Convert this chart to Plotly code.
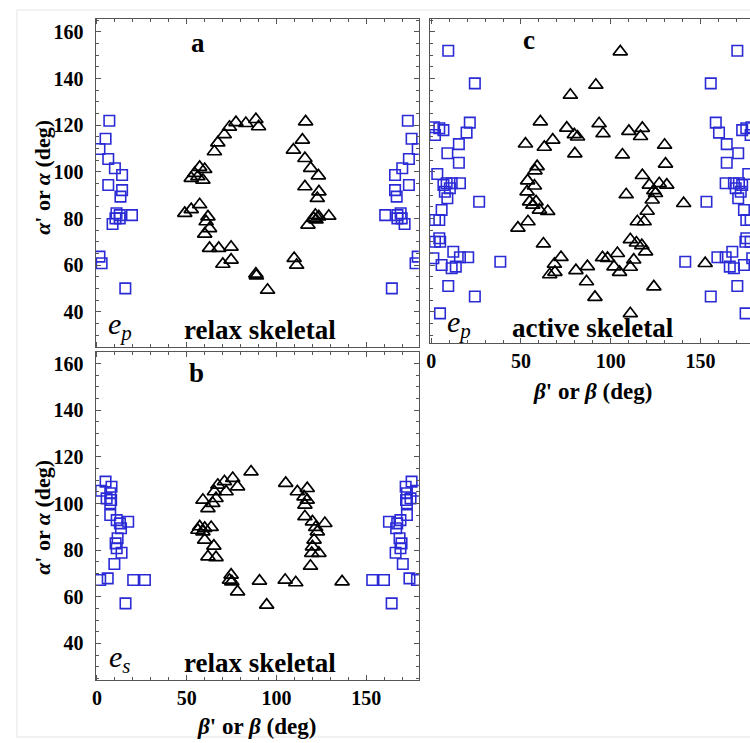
import plotly.graph_objects as go

# ---------------- data ----------------
# Panel a  (e_p, relax skeletal)
a_sq_left_x = [6.9, 4.8, 1.4, 6.3, 10.0, 14.0, 6.3, 14.0, 13.1, 10.9, 12.7, 19.5, 10.3, 12.7, 8.7, 1.4, 2.6, 15.8]
a_sq_left_y = [121.9, 114.2, 109.8, 105.5, 101.6, 98.7, 94.4, 92.2, 89.4, 82.3, 81.5, 81.5, 80.1, 80.1, 77.7, 63.7, 60.9, 50.1]
a_sq_right_x = [173.1, 175.2, 178.6, 173.7, 170.0, 166.0, 173.7, 166.0, 166.9, 169.1, 167.3, 160.5, 169.7, 167.3, 171.3, 178.6, 177.4, 164.2]
a_sq_right_y = [121.9, 114.2, 109.8, 105.5, 101.6, 98.7, 94.4, 92.2, 89.4, 82.3, 81.5, 81.5, 80.1, 80.1, 77.7, 63.7, 60.9, 50.1]
a_tri_x = [48.9, 52.5, 57.2, 61.8, 60.8, 62.7, 60.0, 62.7, 67.8, 74.7, 70.1, 74.7,
           52.5, 54.4, 56.2, 57.2, 60.0, 59.0, 65.4, 67.3, 70.9, 73.8, 77.4, 82.9, 88.5, 90.0,
           88.5, 88.8, 95.0,
           116.2, 114.4, 109.4, 115.8, 119.0, 123.3, 115.8, 123.6, 122.7, 121.6, 129.1, 120.7,
           123.5, 122.0, 117.5, 109.8, 111.2]
a_tri_y = [82.3, 83.9, 86.0, 80.8, 78.7, 75.8, 73.4, 67.3, 67.3, 67.8, 60.5, 62.3,
           97.3, 99.4, 98.0, 102.0, 101.1, 96.5, 108.7, 112.5, 116.0, 119.2, 121.2, 120.8, 122.5, 119.4,
           56.3, 55.5, 49.4,
           121.5, 113.7, 109.4, 105.8, 101.6, 98.4, 93.7, 91.5, 88.7, 81.5, 81.1, 80.1,
           80.8, 79.5, 77.3, 63.0, 60.1]

# Panel b  (e_s, relax skeletal)
b_sq_left_x = [4.8, 8.1, 2.3, 7.4, 5.4, 7.9, 7.4, 7.4, 11.0, 17.4, 12.8, 13.4, 11.5, 10.4, 11.0, 13.7, 9.7, 1.8, 6.0, 20.2, 26.7, 15.9]
b_sq_left_y = [109.4, 107.2, 105.5, 104.4, 102.2, 101.5, 100.1, 95.1, 92.9, 92.2, 91.5, 89.4, 85.1, 82.9, 80.8, 78.9, 74.1, 67.2, 67.9, 67.2, 67.2, 57.2]
b_sq_right_x = [175.2, 171.9, 177.7, 172.6, 174.6, 172.1, 172.6, 172.6, 169.0, 162.6, 167.2, 166.6, 168.5, 169.6, 169.0, 166.3, 170.3, 178.2, 174.0, 159.8, 153.3, 164.1]
b_sq_right_y = [109.4, 107.2, 105.5, 104.4, 102.2, 101.5, 100.1, 95.1, 92.9, 92.2, 91.5, 89.4, 85.1, 82.9, 80.8, 78.9, 74.1, 67.2, 67.9, 67.2, 67.2, 57.2]
b_tri_x = [85.8, 75.6, 71.0, 67.3, 78.3, 71.9, 65.4, 66.3, 59.0, 64.5, 61.8, 57.2, 60.0, 63.6, 56.2, 59.0,
           60.0, 65.1, 61.8, 66.3, 74.7, 73.8, 75.1, 78.3, 90.5, 94.5,
           105.1, 111.6, 117.1, 115.3, 117.1, 115.8, 115.8, 120.0, 126.9, 121.8, 122.7, 120.9, 120.0,
           119.6, 123.6, 118.9, 104.8, 110.7, 136.5]
b_tri_y = [113.6, 110.8, 109.4, 107.9, 107.2, 105.1, 105.1, 102.2, 101.5, 100.1, 97.9, 90.1, 89.4, 89.8, 88.6, 87.9,
           84.4, 81.8, 77.2, 76.9, 69.4, 67.2, 66.5, 62.2, 66.8, 56.5,
           108.7, 105.1, 106.5, 102.9, 101.5, 99.4, 94.4, 92.2, 91.5, 89.8, 87.9, 84.4, 81.5,
           78.7, 78.7, 73.2, 67.2, 66.1, 66.5]

# Panel c  (e_p, active skeletal)
c_sq_left_x = [9.5, 24.3, 21.5, 19.7, 1.6, 4.5, 6.8, 2.1, 15.4, 9.0, 15.4, 3.4, 8.6, 11.4, 16.0, 6.8, 10.4, 7.6, 9.0,
               26.7, 5.8, 4.5, 2.1, 4.5, 2.1, 5.0, 12.3, 1.2, 5.8, 11.4, 13.7, 16.0, 20.6, 38.5, 9.5, 24.3, 4.9]
c_sq_left_y = [151.9, 137.9, 121.1, 116.8, 119.1, 118.7, 117.9, 115.8, 111.9, 108.0, 103.9, 99.1, 95.1, 95.1, 95.1, 94.4, 93.0, 91.5, 88.7,
               87.2, 83.7, 79.4, 79.4, 71.6, 70.1, 70.1, 65.8, 63.0, 60.1, 58.7, 59.4, 63.4, 63.4, 61.5, 51.1, 46.6, 39.4]
c_sq_right_x = [170.5, 155.7, 158.5, 160.3, 178.4, 175.5, 173.2, 177.9, 164.6, 171.0, 164.6, 176.6, 171.4, 168.6, 164.0, 173.2, 169.6, 172.4, 171.0,
                153.3, 174.2, 175.5, 177.9, 175.5, 177.9, 175.0, 167.7, 178.8, 174.2, 168.6, 166.3, 164.0, 159.4, 141.5, 170.5, 155.7, 175.1]
c_sq_right_y = [151.9, 137.9, 121.1, 116.8, 119.1, 118.7, 117.9, 115.8, 111.9, 108.0, 103.9, 99.1, 95.1, 95.1, 95.1, 94.4, 93.0, 91.5, 88.7,
                87.2, 83.7, 79.4, 79.4, 71.6, 70.1, 70.1, 65.8, 63.0, 60.1, 58.7, 59.4, 63.4, 63.4, 61.5, 51.1, 46.6, 39.4]
c_tri_x = [105.3, 91.7, 77.5,
           60.8, 52.5, 63.0, 67.7, 75.5, 79.7, 81.5, 80.0, 93.5, 95.7, 110.1, 117.6, 116.6, 130.0, 106.5, 130.5,
           59.0, 57.8, 53.7, 57.5, 53.4, 58.4, 54.8, 56.6, 60.3, 64.9, 53.9, 48.3,
           62.5, 72.3, 68.6, 66.0, 68.9, 80.6, 87.0, 86.5, 91.2,
           117.6, 121.5, 127.0, 131.2, 124.0, 124.9, 123.1, 108.6, 140.6, 120.3, 114.8, 118.6,
           110.9, 114.3, 117.3, 119.4, 103.7, 95.4, 98.2, 112.8, 101.8, 104.9, 110.9, 124.0, 110.9, 152.6]
c_tri_y = [151.5, 137.2, 132.9,
           121.5, 112.0, 110.6, 113.7, 118.8, 116.0, 115.0, 107.8, 120.7, 116.4, 117.4, 118.7, 115.2, 111.5, 107.3, 103.4,
           102.3, 100.5, 96.2, 94.0, 91.5, 87.2, 87.2, 85.8, 83.7, 83.1, 78.7, 76.0,
           69.2, 63.4, 60.5, 56.0, 57.0, 57.8, 59.5, 53.0, 46.3,
           98.5, 94.4, 95.0, 94.4, 92.0, 90.8, 88.0, 90.3, 86.5, 83.2, 78.7, 78.7,
           71.0, 69.6, 68.5, 65.8, 65.1, 63.3, 63.0, 62.3, 59.4, 57.0, 59.2, 50.8, 39.3, 60.8]

y_ticks = [40, 60, 80, 100, 120, 140, 160]
x_ticks = [0, 50, 100, 150]

# ---------------- figure ----------------
W, H = 750, 743
def px(x):
    return x / W
def py(y):
    return 1 - y / H

BLUE = "#2b2bd6"
SERIF = "Liberation Serif"

fig = go.Figure()

def add_panel(xa, ya, sqlx, sqly, sqrx, sqry, trx, try_):
    sq = dict(symbol="square-open", size=10.5, color=BLUE, line=dict(width=1.6, color=BLUE))
    tr = dict(symbol="triangle-up-open", size=12.5, color="black", line=dict(width=1.7, color="black"))
    fig.add_trace(go.Scatter(x=sqlx, y=sqly, mode="markers", marker=sq, xaxis=xa, yaxis=ya, showlegend=False))
    fig.add_trace(go.Scatter(x=sqrx, y=sqry, mode="markers", marker=sq, xaxis=xa, yaxis=ya, showlegend=False))
    fig.add_trace(go.Scatter(x=trx, y=try_, mode="markers", marker=tr, xaxis=xa, yaxis=ya, showlegend=False))

add_panel("x", "y", a_sq_left_x, a_sq_left_y, a_sq_right_x, a_sq_right_y, a_tri_x, a_tri_y)
add_panel("x2", "y2", b_sq_left_x, b_sq_left_y, b_sq_right_x, b_sq_right_y, b_tri_x, b_tri_y)
add_panel("x3", "y3", c_sq_left_x, c_sq_left_y, c_sq_right_x, c_sq_right_y, c_tri_x, c_tri_y)

tickfont = dict(family=SERIF, size=20, color="black", weight="bold")
FRAME = "#555555"

def xaxis(dom, rng, labels, mirror=True):
    return dict(domain=dom, range=rng, tickvals=x_ticks, ticktext=[str(t) for t in x_ticks],
                showticklabels=labels, ticks="inside", ticklen=5, tickcolor=FRAME,
                minor=dict(dtick=10, tick0=0, ticks="inside", ticklen=3, tickcolor=FRAME),
                showline=True, linecolor=FRAME, linewidth=1, mirror="ticks" if mirror else False,
                showgrid=False, zeroline=False, tickfont=tickfont, fixedrange=True)

def yaxis(dom, rng, labels, anchor, mirror=True):
    return dict(domain=dom, range=rng, tickvals=y_ticks, ticktext=[str(t) for t in y_ticks],
                showticklabels=labels, ticks="inside", ticklen=5, tickcolor=FRAME,
                minor=dict(dtick=5, tick0=0, ticks="inside", ticklen=3, tickcolor=FRAME),
                showline=True, linecolor=FRAME, linewidth=1, mirror="ticks" if mirror else False,
                showgrid=False, zeroline=False, tickfont=tickfont, anchor=anchor, fixedrange=True,
                ticklabelstandoff=7)

fig.update_layout(
    width=W, height=H,
    margin=dict(l=0, r=0, t=0, b=0),
    paper_bgcolor="white", plot_bgcolor="white",
    xaxis=dict(xaxis([px(92), px(417)], [-0.8, 179.2], False), anchor="y"),
    yaxis=yaxis([py(347), py(19)], [25.0, 165.5], True, "x"),
    xaxis2=dict(xaxis([px(92), px(417)], [-0.8, 179.2], True), anchor="y2"),
    yaxis2=yaxis([py(680), py(352)], [24.35, 164.95], True, "x2"),
    xaxis3=dict(xaxis([px(428), 1.0], [-0.83, 177.56], True), anchor="y3"),
    yaxis3=yaxis([py(343), py(18.5)], [26.7, 165.7], False, "x3", mirror=False),
    showlegend=False,
)

def ann(x, y, text, size, angle=0):
    fig.add_annotation(x=px(x), y=py(y), xref="paper", yref="paper", text=text, showarrow=False,
                       xanchor="center", yanchor="middle", textangle=angle,
                       font=dict(family=SERIF, size=size, color="black"))

ytitle = "<b><i>α</i>' or <i>α</i> (deg)</b>"
xtitle = "<b><i>β</i>' or <i>β</i> (deg)</b>"
ann(38, 177, ytitle, 22, -90)
ann(38, 517, ytitle, 22, -90)
ann(254, 726, xtitle, 23)
ann(592, 391, xtitle, 23)

ann(195, 43, "<b>a</b>", 27)
ann(194, 373, "<b>b</b>", 27)
ann(528, 40, "<b>c</b>", 27)

ann(117, 326, "<i>e</i><sub><i>p</i></sub>", 30)
ann(117, 659, "<i>e</i><sub><i>s</i></sub>", 30)
ann(457, 324, "<i>e</i><sub><i>p</i></sub>", 30)
ann(257, 330, "<b>relax skeletal</b>", 27)
ann(257, 663, "<b>relax skeletal</b>", 27)
ann(592, 328, "<b>active skeletal</b>", 27)

# faint outer border of the original figure
fig.add_shape(type="rect", xref="paper", yref="paper", x0=px(13), x1=px(760), y0=py(737), y1=py(10),
              line=dict(color="#e4e4e4", width=1), layer="below")

fig.write_html("out.html", config={"displayModeBar": False},
               post_script="document.body.style.margin='0px';document.body.style.overflow='hidden';")
